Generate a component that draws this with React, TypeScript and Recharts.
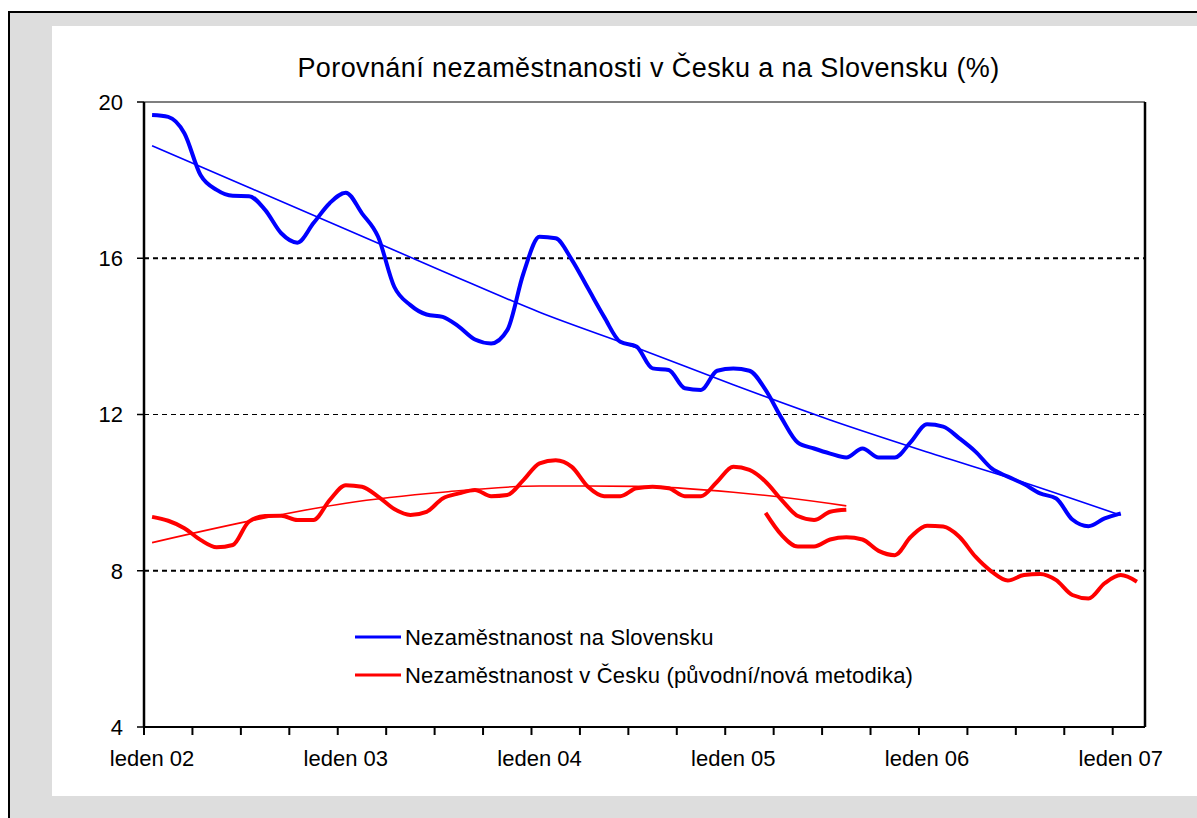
import { LineChart, Line, XAxis, YAxis, ReferenceLine, Legend } from 'recharts'

const FONT = 'Arial, "Liberation Sans", sans-serif'
const BLUE = '#0000FF'
const RED = '#FF0000'

// categories: months Jan 2002 .. Feb 2007
const MONTHS = ['leden', 'únor', 'březen', 'duben', 'květen', 'červen', 'červenec', 'srpen', 'září', 'říjen', 'listopad', 'prosinec']
const YEARS = ['02', '03', '04', '05', '06', '07']
const categories = YEARS.flatMap((y) => MONTHS.map((m) => `${m} ${y}`)).slice(0, 62)

const yearLabels = ['leden 02', 'leden 03', 'leden 04', 'leden 05', 'leden 06', 'leden 07']
const tickMarks = [0, 3, 6, 9, 12, 15, 18, 21, 24, 27, 30, 33, 36, 39, 42, 45, 48, 51, 54, 57, 60]
const yTicks = [4, 8, 12, 16, 20]
const gridLines = [8, 12, 16]

// Nezaměstnanost na Slovensku (leden 02 .. leden 07)
const sk = [
  19.67, 19.62, 19.2, 18.13, 17.75, 17.6, 17.59, 17.24, 16.64, 16.4,
  16.9, 17.41, 17.68, 17.15, 16.55, 15.27, 14.8, 14.56, 14.5, 14.25,
  13.92, 13.82, 14.16, 15.61, 16.55, 16.51, 15.96, 15.23, 14.5, 13.86,
  13.74, 13.18, 13.14, 12.67, 12.63, 13.12, 13.18, 13.12, 12.63, 11.9,
  11.28, 11.13, 11.0, 10.9, 11.13, 10.9, 10.9, 11.3, 11.75, 11.69,
  11.39, 11.05, 10.62, 10.41, 10.22, 9.98, 9.85, 9.31, 9.14, 9.34, 9.47,
]

// Nezaměstnanost v Česku, původní metodika (leden 02 .. srpen 05)
const czOld = [
  9.38, 9.28, 9.09, 8.79, 8.6, 8.66, 9.26, 9.4, 9.41, 9.3,
  9.3, 9.81, 10.19, 10.15, 9.9, 9.58, 9.43, 9.51, 9.85, 9.98,
  10.07, 9.91, 9.94, 10.32, 10.75, 10.83, 10.66, 10.15, 9.91, 9.91,
  10.11, 10.15, 10.11, 9.91, 9.91, 10.28, 10.66, 10.58, 10.28, 9.81,
  9.4, 9.3, 9.51, 9.56,
]

// Nezaměstnanost v Česku, nová metodika (březen 05 .. únor 07)
const CZ_NEW_START = 38
const czNew = [
  9.48, 8.91, 8.62, 8.62, 8.8, 8.86, 8.8, 8.51, 8.4, 8.87,
  9.15, 9.13, 8.87, 8.36, 7.98, 7.75, 7.89, 7.92, 7.76, 7.38,
  7.29, 7.68, 7.89, 7.72,
]

// trend lines, read at every 6th month
const skTrendIdx = [0, 6, 12, 18, 24, 30, 36, 42, 48, 54, 60]
const skTrend = [18.88, 17.81, 16.74, 15.67, 14.62, 13.71, 12.76, 11.86, 11.04, 10.26, 9.42]
const czTrendIdx = [0, 6, 12, 18, 24, 30, 36, 42, 43]
const czTrend = [8.72, 9.27, 9.73, 10.01, 10.17, 10.16, 10.01, 9.72, 9.66]

const legendItems = [
  { label: 'Nezaměstnanost na Slovensku', color: BLUE },
  { label: 'Nezaměstnanost v Česku (původní/nová metodika)', color: RED },
]

const rows = categories.map((name, i) => {
  const st = skTrendIdx.indexOf(i)
  const ct = czTrendIdx.indexOf(i)
  return {
    pos: i + 0.5,
    name,
    sk: i < sk.length ? sk[i] : null,
    czOld: i < czOld.length ? czOld[i] : null,
    czNew: i >= CZ_NEW_START ? czNew[i - CZ_NEW_START] : null,
    skTrend: st >= 0 ? skTrend[st] : null,
    czTrend: ct >= 0 ? czTrend[ct] : null,
  }
})

const W = 1197
const H = 818
const PLOT_LEFT = 144
const PLOT_RIGHT = 1145
const HALF_CAT = (PLOT_RIGHT - PLOT_LEFT) / categories.length / 2

function XTick(props: any) {
  const { x, y, payload } = props
  const v = payload.value
  if (v % 12 !== 0) return <g />
  return (
    <text x={x + HALF_CAT} y={y} dy="0.71em" textAnchor="middle" fill="#000" fontSize={22} fontFamily={FONT}>
      {yearLabels[v / 12]}
    </text>
  )
}

function ChartLegend() {
  return (
    <svg width={620} height={80}>
      {legendItems.map((it, i) => (
        <g key={i}>
          <line x1={5} x2={51} y1={22 + i * 38} y2={22 + i * 38} stroke={it.color} strokeWidth={3} />
          <text x={55} y={22 + i * 38} dominantBaseline="central" fontSize={22} fontFamily={FONT} letterSpacing={0.2} fill="#000">
            {it.label}
          </text>
        </g>
      ))}
    </svg>
  )
}

export default function App() {
  return (
    <div style={{ position: 'absolute', left: 0, top: 0, width: W, height: H, overflow: 'hidden', background: '#fff' }}>
      <div style={{ position: 'absolute', left: 8, top: 11, width: 1220, height: 840, border: '2px solid #000', background: '#DDDDDD' }} />
      <div style={{ position: 'absolute', left: 52, top: 26, width: 1200, height: 770, background: '#fff' }} />
      <div
        style={{
          position: 'absolute', left: 148, top: 55, width: 1001, textAlign: 'center',
          fontFamily: FONT, fontSize: 27, lineHeight: '27px', letterSpacing: 0.4, color: '#000', whiteSpace: 'nowrap',
        }}
      >
        Porovnání nezaměstnanosti v Česku a na Slovensku (%)
      </div>
      <div style={{ position: 'absolute', left: 0, top: 0 }}>
        <LineChart width={W} height={H} data={rows} margin={{ top: 102, right: W - PLOT_RIGHT, bottom: 31, left: 64 }}>
          <XAxis
            dataKey="pos"
            type="number"
            domain={[0, categories.length]}
            ticks={tickMarks}
            interval={0}
            height={60}
            axisLine={{ stroke: '#000', strokeWidth: 2 }}
            tickLine={{ stroke: '#000', strokeWidth: 2 }}
            tickSize={8}
            tickMargin={15}
            tick={<XTick />}
          />
          <YAxis
            type="number"
            domain={[4, 20]}
            ticks={yTicks}
            width={80}
            axisLine={{ stroke: '#000', strokeWidth: 2.5 }}
            tickLine={{ stroke: '#000', strokeWidth: 1.5 }}
            tickSize={7}
            tickMargin={14}
            tick={{ fill: '#000', fontSize: 22, fontFamily: FONT }}
          />
          {gridLines.map((g) => (
            <ReferenceLine key={g} y={g} stroke="#000" strokeWidth={g === 12 ? 1 : 2} strokeDasharray="5 4" />
          ))}
          <ReferenceLine y={20} stroke="#000" strokeWidth={1.2} />
          <ReferenceLine x={categories.length} stroke="#000" strokeWidth={2.5} />
          <Legend
            layout="vertical"
            align="center"
            verticalAlign="middle"
            content={<ChartLegend />}
            wrapperStyle={{ position: 'absolute', left: 350, top: 615, width: 620, height: 80 }}
          />
          <Line dataKey="skTrend" type="monotone" stroke={BLUE} strokeWidth={1.6} dot={false} activeDot={false} connectNulls isAnimationActive={false} legendType="none" />
          <Line dataKey="czTrend" type="monotone" stroke={RED} strokeWidth={1.6} dot={false} activeDot={false} connectNulls isAnimationActive={false} legendType="none" />
          <Line dataKey="sk" type="monotone" stroke={BLUE} strokeWidth={4} dot={false} activeDot={false} isAnimationActive={false} />
          <Line dataKey="czOld" type="monotone" stroke={RED} strokeWidth={4} dot={false} activeDot={false} isAnimationActive={false} />
          <Line dataKey="czNew" type="monotone" stroke={RED} strokeWidth={4} dot={false} activeDot={false} isAnimationActive={false} />
        </LineChart>
      </div>
    </div>
  )
}
